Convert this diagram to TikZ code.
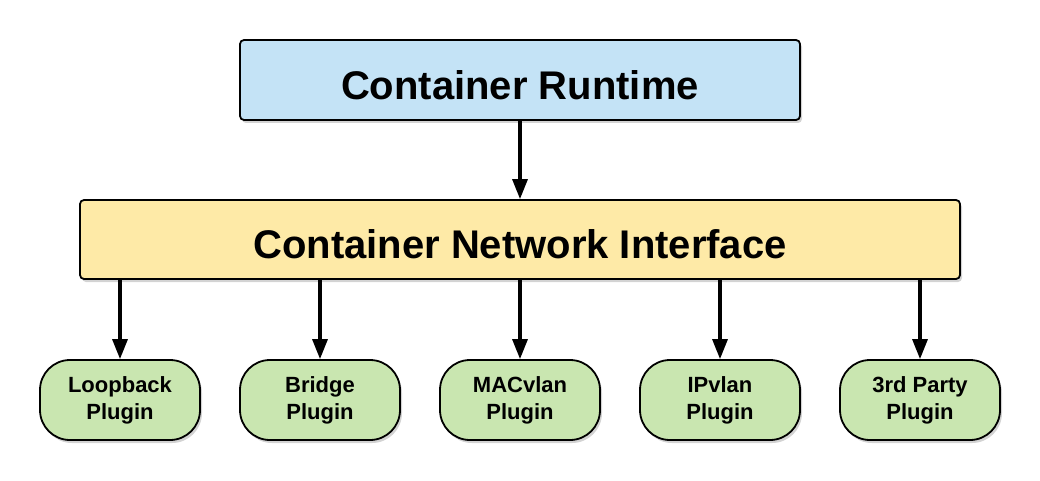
\documentclass[tikz,border=0pt]{standalone}
\usepackage{fontspec}
\setmainfont{Liberation Sans}
\usetikzlibrary{arrows.meta,shadows}
\definecolor{rtblue}{HTML}{C4E3F6}
\definecolor{cniyellow}{HTML}{FEEAA7}
\definecolor{plugreen}{HTML}{C9E6B0}
\begin{document}
\begin{tikzpicture}[x=1pt,y=1pt,
  shad/.style={drop shadow={opacity=0.35,shadow xshift=2pt,shadow yshift=-3pt}},
  bigbox/.style={draw=black,line width=1.8pt,rounded corners=4pt,shad,
    font=\bfseries\fontsize{40}{48}\selectfont,inner sep=0pt,text depth=0pt},
  plugbox/.style={draw=black,line width=1.8pt,rounded corners=30pt,shad,fill=plugreen,
    minimum width=160pt,minimum height=80pt,align=center,inner sep=0pt,
    font=\bfseries\fontsize{22}{27}\selectfont},
  conn/.style={line width=3.2pt,-{Triangle[length=20pt,width=15pt]}}
]
\useasboundingbox (0,0) rectangle (1040,480);
\node[bigbox,fill=rtblue,minimum width=560pt,minimum height=80pt,text height=39pt] (rt) at (520,400) {Container Runtime};
\node[bigbox,fill=cniyellow,minimum width=880pt,minimum height=79pt,text height=37pt] (cni) at (520,240.5) {Container Network Interface};
\node[plugbox] (lo) at (120,80) {Loopback\\Plugin};
\node[plugbox] (br) at (320,80) {Bridge\\Plugin};
\node[plugbox] (mac) at (520,80) {MACvlan\\Plugin};
\node[plugbox] (ip) at (720,80) {IPvlan\\Plugin};
\node[plugbox] (tp) at (920,80) {3rd Party\\Plugin};
\draw[conn] (rt.south) -- (cni.north);
\foreach \n in {lo,br,mac,ip,tp}{
  \draw[conn] (cni.south -| \n.north) -- (\n.north);
}
\end{tikzpicture}
\end{document}
